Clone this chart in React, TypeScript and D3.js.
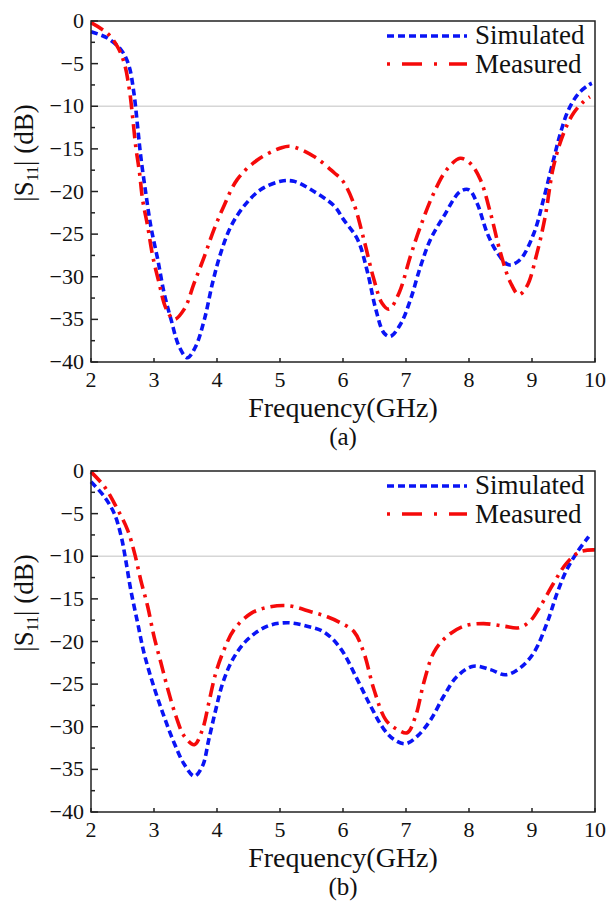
import React from 'react';
import * as d3 from 'd3';

// |S11| curves, [GHz, dB]
const simulatedA: [number, number][] = [
  [2.0, -1.25], [2.26, -2.0], [2.48, -3.4], [2.6, -5.2], [2.68, -8.4], [2.74, -12.4],
  [2.79, -15.9], [2.87, -20.2], [2.95, -24.1], [3.06, -28], [3.16, -31.9], [3.27, -35],
  [3.40, -38.2], [3.53, -39.5], [3.66, -38.2], [3.80, -35], [3.93, -30.7], [4.06, -27.2],
  [4.22, -24.1], [4.43, -21.7], [4.69, -19.8], [5.01, -18.8], [5.22, -18.8], [5.54, -20],
  [5.86, -21.7], [6.01, -23.3], [6.23, -25.6], [6.39, -29.5], [6.52, -33.8], [6.65, -36.6],
  [6.75, -37.0], [6.91, -35.6], [7.07, -32.7], [7.23, -28.8], [7.39, -25.6], [7.60, -22.9],
  [7.86, -20.0], [8.00, -19.8], [8.13, -21.4], [8.29, -24.9], [8.45, -27.2], [8.63, -28.6],
  [8.81, -28], [9.03, -24.9], [9.18, -21], [9.34, -16.3], [9.45, -13.2], [9.58, -10.4],
  [9.74, -8.5], [9.90, -7.5], [9.95, -7.3],
];

const measuredA: [number, number][] = [
  [2.0, -0.2], [2.26, -1.45], [2.42, -3.0], [2.53, -5.0], [2.61, -8.1], [2.66, -11.2],
  [2.71, -14.7], [2.77, -17.8], [2.82, -21], [2.90, -24.1], [2.98, -27.6], [3.08, -30.7],
  [3.19, -33.7], [3.32, -35], [3.48, -33.8], [3.64, -30.7], [3.80, -27.6], [3.95, -24.5],
  [4.11, -21.7], [4.32, -18.6], [4.64, -16.3], [5.01, -14.9], [5.17, -14.7], [5.54, -15.9],
  [5.86, -17.8], [6.0, -18.8], [6.17, -21.4], [6.33, -25.6], [6.49, -30.3], [6.62, -33.1],
  [6.73, -33.8], [6.89, -31.9], [7.07, -27.6], [7.23, -24.1], [7.44, -20.2], [7.65, -17.4],
  [7.86, -16.1], [8.02, -16.7], [8.18, -18.6], [8.34, -22.5], [8.50, -27.2], [8.66, -30.7],
  [8.79, -32.1], [8.92, -31.1], [9.08, -27.2], [9.21, -22.9], [9.34, -17.1], [9.50, -13.2],
  [9.66, -10.8], [9.82, -9.45], [9.92, -8.9],
];

const simulatedB: [number, number][] = [
  [2.0, -1.25], [2.21, -3.0], [2.37, -5.0], [2.48, -7.7], [2.55, -10.4], [2.63, -13.9],
  [2.74, -17.8], [2.84, -21.3], [2.98, -24.9], [3.14, -28.4], [3.32, -31.9], [3.48, -34.4],
  [3.64, -35.8], [3.77, -34.6], [3.87, -31.5], [3.98, -28], [4.09, -24.9], [4.25, -22.1],
  [4.48, -19.8], [4.80, -18.2], [5.12, -17.8], [5.43, -18.2], [5.70, -18.9], [5.96, -20.8],
  [6.23, -24.5], [6.44, -27.6], [6.65, -30.3], [6.81, -31.5], [6.99, -32], [7.18, -31.1],
  [7.39, -29.2], [7.60, -26.4], [7.81, -24.1], [8.07, -22.9], [8.34, -23.3], [8.58, -23.9],
  [8.81, -23.1], [9.03, -21.3], [9.24, -17.8], [9.40, -14.3], [9.55, -11.6], [9.71, -9.6],
  [9.90, -7.7],
];

const measuredB: [number, number][] = [
  [2.0, -0.1], [2.21, -1.8], [2.40, -4.2], [2.58, -6.9], [2.69, -9.6], [2.79, -12.8],
  [2.90, -15.9], [3.00, -19.4], [3.11, -22.5], [3.22, -25.6], [3.35, -28.8], [3.48, -31.1],
  [3.64, -32.1], [3.77, -30.3], [3.87, -27.2], [3.98, -23.7], [4.11, -21], [4.27, -18.6],
  [4.54, -16.7], [4.80, -16.0], [5.12, -15.8], [5.49, -16.5], [5.75, -17.1], [5.96, -17.8],
  [6.17, -18.8], [6.33, -21.3], [6.49, -25.6], [6.68, -29.2], [6.86, -30.3], [7.02, -30.7],
  [7.15, -28.8], [7.28, -24.9], [7.44, -21.3], [7.65, -19.4], [7.92, -18.2], [8.23, -17.9],
  [8.55, -18.2], [8.79, -18.4], [8.97, -17.6], [9.13, -15.9], [9.34, -13.2], [9.55, -10.8],
  [9.77, -9.45], [10.0, -9.25],
];

const xTicks = [2, 3, 4, 5, 6, 7, 8, 9, 10];
const yTicks = [0, -5, -10, -15, -20, -25, -30, -35, -40];
const yMinorTicks = [-2.5, -7.5, -12.5, -17.5, -22.5, -27.5, -32.5, -37.5];
const refLevel = -10;
const panelNames = ['(a)', '(b)'];
const seriesNames = ['Simulated', 'Measured'];

const serif = { fontFamily: 'Liberation Serif' };
const BLUE = '#0a14f5';
const RED = '#f50a0a';

const left = 91, right = 595, plotH = 341;

const fmt = (d: number) => (d < 0 ? '\u2212' + Math.abs(d) : String(d));

const Panel = ({ top, name, sim, meas }: { top: number; name: string; sim: [number, number][]; meas: [number, number][] }) => {
  const x = d3.scaleLinear().domain([2, 10]).range([left, right]);
  const y = d3.scaleLinear().domain([-40, 0]).range([top + plotH, top]);
  const line = d3.line<[number, number]>()
    .x(d => x(d[0]))
    .y(d => y(d[1]))
    .curve(d3.curveCatmullRom.alpha(0.5));
  const bottom = top + plotH;

  return (
    <g fill="#111">
      {/* -10 dB reference */}
      <line x1={left} x2={right} y1={y(refLevel)} y2={y(refLevel)} stroke="#d6d6d6" strokeWidth={1.5} />

      <path d={line(sim) || ''} fill="none" stroke={BLUE} strokeWidth={3.6} strokeDasharray="7 4" />
      <path d={line(meas) || ''} fill="none" stroke={RED} strokeWidth={3.6} strokeDasharray="14 6 3 6" />

      {/* frame */}
      <rect x={left} y={top} width={right - left} height={plotH} fill="none" stroke="#222" strokeWidth={1.5} />

      {xTicks.map(t => (
        <g key={'x' + t}>
          <line x1={x(t)} x2={x(t)} y1={bottom} y2={bottom - 4} stroke="#222" strokeWidth={1.5} />
          <text x={x(t)} y={bottom + 25} textAnchor="middle" fontSize={22} style={serif}>{t}</text>
        </g>
      ))}
      {yTicks.map(t => (
        <g key={'y' + t}>
          <line x1={left} x2={left + 7} y1={y(t)} y2={y(t)} stroke="#222" strokeWidth={1.5} />
          <text x={left - 7} y={y(t) + 7} textAnchor="end" fontSize={22} style={serif}>{fmt(t)}</text>
        </g>
      ))}
      {yMinorTicks.map(t => (
        <line key={'m' + t} x1={left} x2={left + 4} y1={y(t)} y2={y(t)} stroke="#222" strokeWidth={1.5} />
      ))}

      <text x={(left + right) / 2} y={bottom + 55} textAnchor="middle" fontSize={28} style={serif}>Frequency(GHz)</text>
      <text x={(left + right) / 2} y={bottom + 83} textAnchor="middle" fontSize={25} style={serif}>{name}</text>

      <text transform={`translate(33,${top + 132}) rotate(-90)`} textAnchor="middle" fontSize={27} style={serif}>
        |S<tspan fontSize={16} dy={5}>11</tspan><tspan dy={-5}>| (dB)</tspan>
      </text>

      {/* legend */}
      <line x1={387} x2={467} y1={top + 15} y2={top + 15} stroke={BLUE} strokeWidth={3.6} strokeDasharray="7 4" />
      <text x={475} y={top + 23} fontSize={27} style={serif}>{seriesNames[0]}</text>
      <line x1={387} x2={467} y1={top + 43} y2={top + 43} stroke={RED} strokeWidth={3.6} strokeDasharray="3 12 20 12" />
      <text x={475} y={top + 52} fontSize={27} style={serif}>{seriesNames[1]}</text>
    </g>
  );
};

export default function App() {
  return (
    <svg width={609} height={907} style={{ position: 'absolute', left: 0, top: 0, background: '#fff' }}>
      <Panel top={21} name={panelNames[0]} sim={simulatedA} meas={measuredA} />
      <Panel top={471} name={panelNames[1]} sim={simulatedB} meas={measuredB} />
    </svg>
  );
}
